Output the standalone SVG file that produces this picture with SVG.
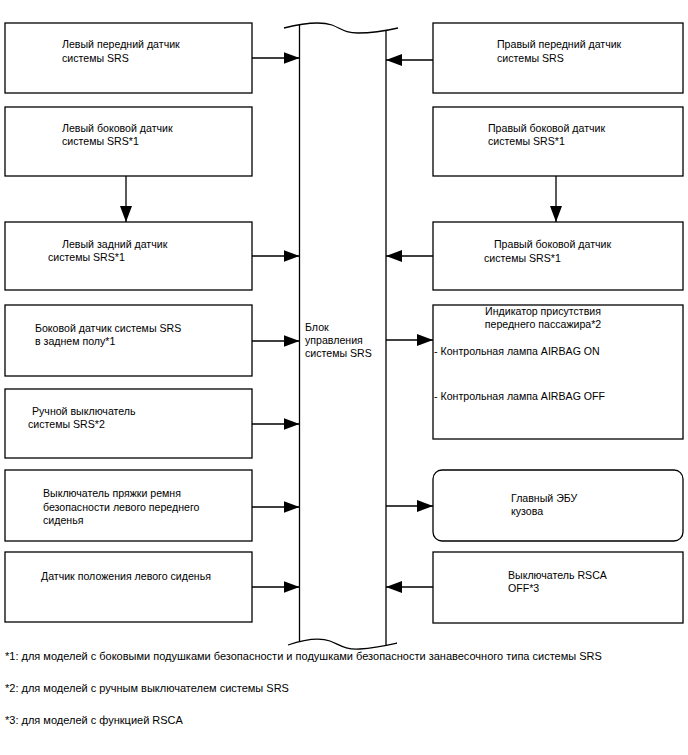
<svg xmlns="http://www.w3.org/2000/svg" width="688" height="755" viewBox="0 0 688 755">
<style>
.box{fill:#fff;stroke:#000;stroke-width:1.3}
.ln{fill:none;stroke:#000;stroke-width:1.3}
text{font-family:"Liberation Sans",Arial,sans-serif;font-size:10.6px;fill:#000}
.fn{font-size:11px}
</style>
<defs>
<marker id="ah" viewBox="0 0 16 12" refX="16" refY="6" markerWidth="16" markerHeight="12" markerUnits="userSpaceOnUse" orient="auto">
<path d="M0,0 L16,6 L0,12 z" fill="#000"/>
</marker>
</defs>
<rect width="688" height="755" fill="#fff"/>

<g id="ecu">
<path class="ln" d="M299.5,25 V642 M386,30 V645"/>
<path class="ln" d="M284,28 C300,24 320,21 332,25 C342,29 345,33 358,33 C372,33 385,31 398,28"/>
<path class="ln" d="M288,645 C300,641 318,637 330,641 C340,645 345,650 360,649 C375,648 388,645 397,643"/>
<text x="305" y="331">Блок</text>
<text x="305" y="344">управления</text>
<text x="305" y="357">системы SRS</text>
</g>

<g id="l1"><rect class="box" x="5" y="23" width="247" height="70"/>
<text x="62" y="48">Левый передний датчик</text><text x="62" y="62">системы SRS</text></g>
<g id="l2"><rect class="box" x="5" y="107" width="247" height="69"/>
<text x="62" y="132">Левый боковой датчик</text><text x="62" y="145">системы SRS*1</text></g>
<g id="l3"><rect class="box" x="5" y="222" width="247" height="68"/>
<text x="62" y="248">Левый задний датчик</text><text x="48" y="261">системы SRS*1</text></g>
<g id="l4"><rect class="box" x="5" y="305" width="247" height="71"/>
<text x="35" y="332">Боковой датчик системы SRS</text><text x="35" y="345">в заднем полу*1</text></g>
<g id="l5"><rect class="box" x="5" y="389" width="247" height="69"/>
<text x="32" y="415">Ручной выключатель</text><text x="28" y="428">системы SRS*2</text></g>
<g id="l6"><rect class="box" x="5" y="470" width="247" height="71"/>
<text x="43" y="497">Выключатель пряжки ремня</text><text x="43" y="511">безопасности левого переднего</text><text x="43" y="524">сиденья</text></g>
<g id="l7"><rect class="box" x="5" y="552" width="247" height="70"/>
<text x="41" y="580">Датчик положения левого сиденья</text></g>

<g id="r1"><rect class="box" x="433" y="23" width="250" height="70"/>
<text x="497" y="48">Правый передний датчик</text><text x="497" y="62">системы SRS</text></g>
<g id="r2"><rect class="box" x="433" y="107" width="250" height="69"/>
<text x="488" y="132">Правый боковой датчик</text><text x="488" y="145">системы SRS*1</text></g>
<g id="r3"><rect class="box" x="433" y="222" width="250" height="68"/>
<text x="494" y="248">Правый боковой датчик</text><text x="484" y="262">системы SRS*1</text></g>
<g id="r4"><rect class="box" x="433" y="305" width="250" height="134"/>
<text x="543" y="315" text-anchor="middle">Индикатор присутствия</text><text x="543" y="328" text-anchor="middle">переднего пассажира*2</text>
<text x="434" y="355">- Контрольная лампа AIRBAG ON</text><text x="434" y="400">- Контрольная лампа AIRBAG OFF</text></g>
<g id="r5"><rect class="box" x="433" y="470" width="250" height="71" rx="9"/>
<text x="511" y="502">Главный ЭБУ</text><text x="511" y="515">кузова</text></g>
<g id="r6"><rect class="box" x="433" y="552" width="250" height="71"/>
<text x="508" y="579">Выключатель RSCA</text><text x="508" y="592">OFF*3</text></g>

<g id="connectors">
<path class="ln" marker-end="url(#ah)" d="M252,58 H299.5"/>
<path class="ln" marker-end="url(#ah)" d="M252,256 H299.5"/>
<path class="ln" marker-end="url(#ah)" d="M252,341 H299.5"/>
<path class="ln" marker-end="url(#ah)" d="M252,424 H299.5"/>
<path class="ln" marker-end="url(#ah)" d="M252,507 H299.5"/>
<path class="ln" marker-end="url(#ah)" d="M252,587 H299.5"/>
<path class="ln" marker-end="url(#ah)" d="M433,60 H386"/>
<path class="ln" marker-end="url(#ah)" d="M433,256 H386"/>
<path class="ln" marker-end="url(#ah)" d="M386,340 H433"/>
<path class="ln" marker-end="url(#ah)" d="M386,506 H433"/>
<path class="ln" marker-end="url(#ah)" d="M433,587 H386"/>
<path class="ln" marker-end="url(#ah)" d="M126,176 V222"/>
<path class="ln" marker-end="url(#ah)" d="M556,176 V222"/>
</g>

<g id="notes">
<text class="fn" x="5" y="660">*1: для моделей с боковыми подушками безопасности и подушками безопасности занавесочного типа системы SRS</text>
<text class="fn" x="5" y="692">*2: для моделей с ручным выключателем системы SRS</text>
<text class="fn" x="5" y="724">*3: для моделей с функцией RSCA</text>
</g>
</svg>
